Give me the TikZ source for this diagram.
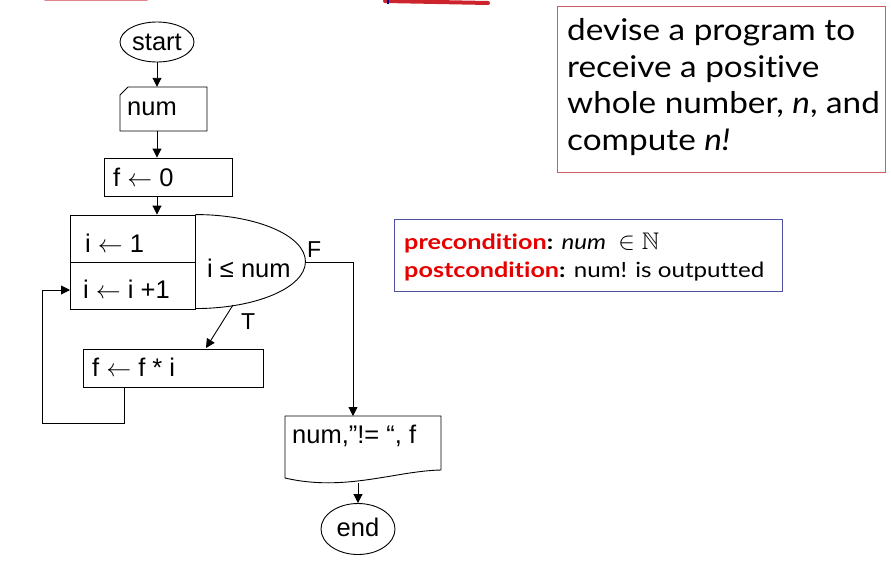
\documentclass[tikz,border=0pt]{standalone}
\usepackage{amssymb}
\usepackage{fontspec}
\setmainfont{Liberation Sans}
\newfontfamily\gill[Ligatures=NoCommon,FakeStretch=1.11]{Lato}
\newfontfamily\gillr[Ligatures=NoCommon,FakeStretch=1.15]{Lato}
\newfontfamily\gillb[Ligatures=NoCommon,FakeStretch=1.2]{Lato}
\usetikzlibrary{arrows.meta,shapes.geometric}
\definecolor{taskred}{RGB}{205,95,100}
\definecolor{prebl}{RGB}{80,80,165}
\definecolor{condred}{RGB}{230,0,0}
\definecolor{titlered}{RGB}{205,35,45}
\newcommand{\la}{$\leftarrow$}
\begin{document}
\begin{tikzpicture}[x=1pt,y=-1pt,
  line/.style={draw, line width=0.9pt},
  arr/.style={line, -{Triangle[length=9pt,width=9pt]}},
  term/.style={draw, line width=0.9pt, ellipse, inner sep=0pt},
  procbox/.style={draw, line width=0.9pt, rectangle, inner sep=0pt},
  ghost/.style={rectangle, inner sep=0pt},
  lbl/.style={anchor=base west, inner sep=0pt, font=\fontsize{25.5}{30}\selectfont},
  ctr/.style={anchor=base, inner sep=0pt, font=\fontsize{25.5}{30}\selectfont},
  tasktxt/.style={anchor=base west, inner sep=0pt, font=\gill\fontsize{30}{37}\selectfont},
  pretxt/.style={anchor=base west, inner sep=0pt, font=\gillr\fontsize{21}{28}\selectfont}]
\useasboundingbox (0,0) rectangle (891,573);
% partial title underline
\draw[line width=1.5pt, titlered!55, line cap=round] (45,0.3) -- (147,0.3);
\draw[line width=4pt, titlered, line cap=round] (385,1) -- (488,3);
\draw[line width=2pt, blue!60!black] (388,0) -- (388,4);

% start
\node[term, minimum width=74pt, minimum height=40pt] (start) at (157,42) {};
\node[ctr] (startt) at (157,50) {start};
% num (manual input)
\node[ghost, minimum width=87pt, minimum height=44pt] (num) at (163.5,109) {};
\draw[line] (128,87) -- (207,87) -- (207,131) -- (120,131) -- (120,95) -- cycle;
\node[lbl] (numt) at (127,115) {num};
% f <- 0
\node[procbox, minimum width=128pt, minimum height=38pt] (f0) at (168,177) {};
\node[lbl] (f0t) at (113,186) {f \la\ 0};
% loop block
\node[procbox, minimum width=125pt, minimum height=47pt] (init) at (132.5,238.5) {};
\node[procbox, minimum width=125pt, minimum height=47pt] (incr) at (132.5,285.5) {};
\draw[line] (init.north east) arc[start angle=90, end angle=-90, x radius=110pt, y radius=47pt];
\node[lbl] (initt) at (85,252) {i \la\ 1};
\node[lbl] (incrt) at (83,298) {i \la\ i +1};
\node[lbl] (cond) at (207,277) {i ≤ num};
\coordinate (fexit) at (305,262);
\coordinate (texit) at (233,305);
\node[lbl, font=\fontsize{23}{26}\selectfont] (flab) at (307,257) {F};
\node[lbl, font=\fontsize{23}{26}\selectfont] (tlab) at (241,329) {T};
% f <- f*i
\node[procbox, minimum width=180pt, minimum height=38pt] (fi) at (173,368) {};
\node[lbl] (fit) at (92,376) {f \la\ f * i};
\coordinate (fiin) at (206,348);
\coordinate (fiout) at (124,387);
\coordinate (incrin) at (70,290);
% output (document)
\node[ghost, minimum width=156pt, minimum height=64pt] (out) at (363,448) {};
\draw[line] (285,416) -- (441,416) -- (441,470) .. controls (395,471) and (345,492) .. (285,478) -- cycle;
\node[lbl] (outt) at (292,443) {num,”!= “, f};
\coordinate (outin) at (353,416);
\coordinate (outbot) at (358,483);
% end
\node[term, minimum width=74pt, minimum height=51pt] (end) at (358,529) {};
\node[ctr] (endt) at (358,536) {end};

% connectors
\draw[arr] (start.south) -- (start.south |- num.north);
\draw[arr] (start.south |- num.south) -- (start.south |- f0.north);
\draw[arr] (start.south |- f0.south) -- (start.south |- init.north);
\draw[arr] (texit) -- (fiin);
\draw[arr] (fexit) -| (outin);
\draw[arr] (fiout) |- (42,423) |- (incrin);
\draw[arr] (outbot) -- (end.north);

% info boxes
\node[draw=prebl, line width=0.9pt, minimum width=388pt, minimum height=72pt, inner sep=0pt] (pre) at (588,255) {};
\node[pretxt] (pre1) at (404,249)
  {{\gillb\bfseries\textcolor{condred}{precondition}:} \textit{num} \ {\fontsize{24}{28}\selectfont$\in \mathbb{N}$}};
\node[pretxt] (pre2) at (404,277)
  {{\gillb\bfseries\textcolor{condred}{postcondition}:} num! is outputted};
\node[draw=taskred, line width=0.9pt, minimum width=328pt, minimum height=166pt, inner sep=0pt] (task) at (721,89) {};
\node[tasktxt] (task1) at (567,40) {devise a program to};
\node[tasktxt] (task2) at (567,77) {receive a positive};
\node[tasktxt] (task3) at (567,113) {whole number, \textit{n}, and};
\node[tasktxt] (task4) at (567,150) {compute \textit{n!}};
\end{tikzpicture}
\end{document}
